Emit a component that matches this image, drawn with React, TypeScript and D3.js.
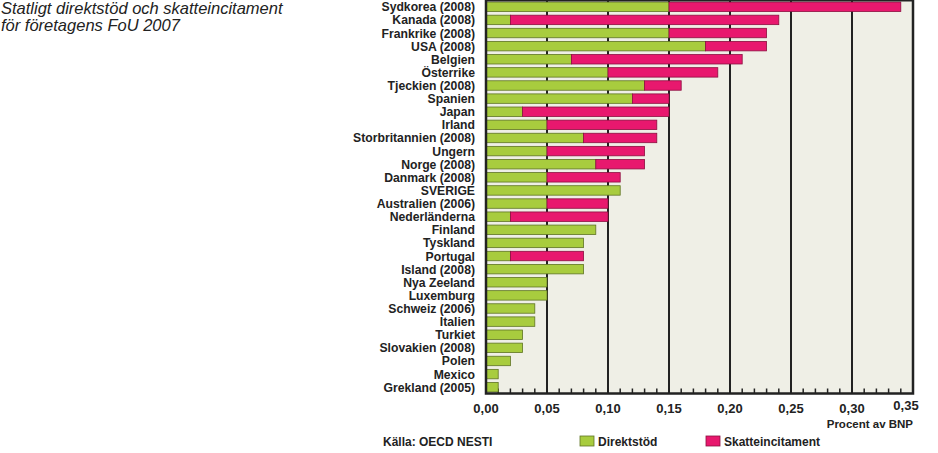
import React, { useEffect, useRef } from 'react';
import * as d3 from 'd3';

// countries, top to bottom
const countries = [
  'Sydkorea (2008)', 'Kanada (2008)', 'Frankrike (2008)', 'USA (2008)', 'Belgien',
  'Österrike', 'Tjeckien (2008)', 'Spanien', 'Japan', 'Irland',
  'Storbritannien (2008)', 'Ungern', 'Norge (2008)', 'Danmark (2008)', 'SVERIGE',
  'Australien (2006)', 'Nederländerna', 'Finland', 'Tyskland', 'Portugal',
  'Island (2008)', 'Nya Zeeland', 'Luxemburg', 'Schweiz (2006)', 'Italien',
  'Turkiet', 'Slovakien (2008)', 'Polen', 'Mexico', 'Grekland (2005)'
];

// procent av BNP
const direktstod = [
  0.15, 0.02, 0.15, 0.18, 0.07,
  0.10, 0.13, 0.12, 0.03, 0.05,
  0.08, 0.05, 0.09, 0.05, 0.11,
  0.05, 0.02, 0.09, 0.08, 0.02,
  0.08, 0.05, 0.05, 0.04, 0.04,
  0.03, 0.03, 0.02, 0.01, 0.01
];
const skatteincitament = [
  0.19, 0.22, 0.08, 0.05, 0.14,
  0.09, 0.03, 0.03, 0.12, 0.09,
  0.06, 0.08, 0.04, 0.06, 0,
  0.05, 0.08, 0, 0, 0.06,
  0, 0, 0, 0, 0,
  0, 0, 0, 0, 0
];

const xTicks = [0, 0.05, 0.1, 0.15, 0.2, 0.25, 0.3, 0.35];
const minorTicks = d3.range(1, 35).map(i => i / 100);

const GREEN = '#a8cc3e';
const GREEN_DARK = '#5f7424';
const PINK = '#e8186e';
const PINK_DARK = '#8c0f40';
const INK = '#222';
const FONT = '"Liberation Sans", Arial, sans-serif';

const Chart = () => {
  const svgRef = useRef(null);

  useEffect(() => {
    const svg = d3.select(svgRef.current);
    svg.selectAll('*').remove();

    const left = 486;
    const right = 913;
    const top = 0.5;
    const bottom = 393.5;

    const x = d3.scaleLinear().domain([0, 0.35]).range([left, right]);
    const y = d3.scaleBand()
      .domain(countries)
      .range([top, bottom])
      .paddingInner(0.28)
      .paddingOuter(0.12);

    // background
    svg.append('rect')
      .attr('x', left).attr('y', 0)
      .attr('width', right - left).attr('height', bottom)
      .attr('fill', '#efefe6');

    // major gridlines
    svg.append('g')
      .selectAll('line')
      .data(xTicks.slice(1, -1))
      .join('line')
      .attr('x1', d => x(d)).attr('x2', d => x(d))
      .attr('y1', 0).attr('y2', bottom)
      .attr('stroke', INK)
      .attr('stroke-width', 2);

    // minor ticks on bottom axis
    svg.append('g')
      .selectAll('line')
      .data(minorTicks)
      .join('line')
      .attr('x1', d => x(d)).attr('x2', d => x(d))
      .attr('y1', bottom - 5).attr('y2', bottom)
      .attr('stroke', INK)
      .attr('stroke-width', 1.5);

    const rows = countries.map((c, i) => ({ c, a: direktstod[i], b: skatteincitament[i] }));

    // direktstöd
    svg.append('g')
      .selectAll('rect')
      .data(rows)
      .join('rect')
      .attr('x', x(0))
      .attr('y', d => y(d.c))
      .attr('width', d => x(d.a) - x(0))
      .attr('height', y.bandwidth())
      .attr('fill', GREEN)
      .attr('stroke', GREEN_DARK)
      .attr('stroke-width', 0.8);

    // skatteincitament
    svg.append('g')
      .selectAll('rect')
      .data(rows.filter(d => d.b > 0))
      .join('rect')
      .attr('x', d => x(d.a))
      .attr('y', d => y(d.c))
      .attr('width', d => x(d.a + d.b) - x(d.a))
      .attr('height', y.bandwidth())
      .attr('fill', PINK)
      .attr('stroke', PINK_DARK)
      .attr('stroke-width', 0.8);

    // frame
    svg.append('path')
      .attr('d', `M${left},0V${bottom}H${right}V0`)
      .attr('fill', 'none')
      .attr('stroke', INK)
      .attr('stroke-width', 2.5);
    svg.append('line')
      .attr('x1', left).attr('x2', right)
      .attr('y1', 0.5).attr('y2', 0.5)
      .attr('stroke', INK).attr('stroke-width', 2);

    // country labels
    svg.append('g')
      .selectAll('text')
      .data(countries)
      .join('text')
      .attr('x', 475)
      .attr('y', d => y(d) + y.bandwidth() / 2 + 4.5)
      .attr('text-anchor', 'end')
      .attr('font-family', FONT)
      .attr('font-weight', 'bold')
      .attr('font-size', 12.2)
      .attr('fill', INK)
      .text(d => d);

    // x tick labels
    svg.append('g')
      .selectAll('text')
      .data(xTicks)
      .join('text')
      .attr('x', (d, i) => x(d) - (i === xTicks.length - 1 ? 7 : 0))
      .attr('y', (d, i) => (i === xTicks.length - 1 ? 410 : 413))
      .attr('text-anchor', 'middle')
      .attr('font-family', FONT)
      .attr('font-weight', 'bold')
      .attr('font-size', 13)
      .attr('fill', INK)
      .text(d => d3.format('.2f')(d).replace('.', ','));

    svg.append('text')
      .attr('x', right).attr('y', 428)
      .attr('text-anchor', 'end')
      .attr('font-family', FONT)
      .attr('font-weight', 'bold')
      .attr('font-size', 11.5)
      .attr('fill', INK)
      .text('Procent av BNP');

    // title
    const title = svg.append('text')
      .attr('font-family', FONT)
      .attr('font-style', 'italic')
      .attr('font-size', 16.5)
      .attr('fill', INK);
    title.append('tspan').attr('x', 1).attr('y', 14).text('Statligt direktstöd och skatteincitament');
    title.append('tspan').attr('x', 1).attr('y', 31).text('för företagens FoU 2007');

    // source
    svg.append('text')
      .attr('x', 383).attr('y', 446)
      .attr('font-family', FONT)
      .attr('font-weight', 'bold')
      .attr('font-size', 12)
      .attr('fill', INK)
      .text('Källa: OECD NESTI');

    // legend
    const legend = [
      { label: 'Direktstöd', fill: GREEN, stroke: GREEN_DARK, lx: 580 },
      { label: 'Skatteincitament', fill: PINK, stroke: PINK_DARK, lx: 706 }
    ];
    const lg = svg.append('g')
      .selectAll('g')
      .data(legend)
      .join('g')
      .attr('transform', d => `translate(${d.lx},436)`);
    lg.append('rect')
      .attr('width', 14).attr('height', 10)
      .attr('fill', d => d.fill)
      .attr('stroke', d => d.stroke)
      .attr('stroke-width', 0.8);
    lg.append('text')
      .attr('x', 18).attr('y', 10)
      .attr('font-family', FONT)
      .attr('font-weight', 'bold')
      .attr('font-size', 12)
      .attr('fill', INK)
      .text(d => d.label);
  }, []);

  return (
    <svg ref={svgRef} width={938} height={453}
      style={{ position: 'absolute', left: 0, top: 0, background: '#fff' }}></svg>
  );
};

const App = () => <Chart />;

export default App;
